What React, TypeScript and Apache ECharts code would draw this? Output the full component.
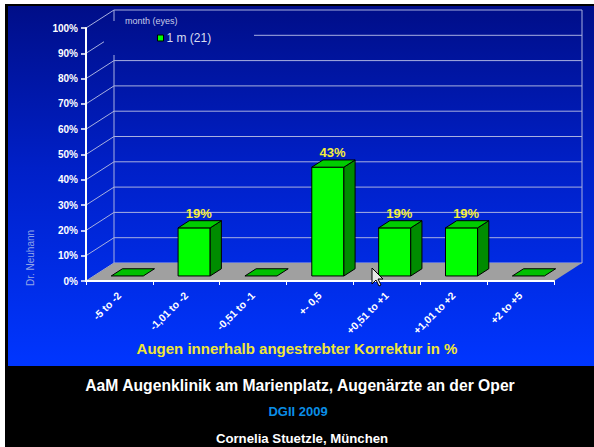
import React, { useEffect, useRef } from "react";
import * as echarts from "echarts";

const categories = ["-5 to -2", "-1,01 to -2", "-0,51 to -1", "+- 0,5", "+0,51 to +1", "+1,01 to +2", "+2 to +5"];
const values = [0, 19, 0, 43, 19, 19, 0];
const yTicks = [0, 10, 20, 30, 40, 50, 60, 70, 80, 90, 100];
const seriesName = "1 m (21)";
const legendTitle = "month (eyes)";
const xTitle = "Augen innerhalb angestrebter Korrektur in %";
const sideNote = "Dr. Neuhann";
const footer1 = "AaM Augenklinik am Marienplatz, Augenärzte an der Oper";
const footer2 = "DGII 2009";
const footer3 = "Cornelia Stuetzle, München";

const DX = 28;
const DY = -18;
const FONT = '"Liberation Sans", Arial, sans-serif';
const BG_STOPS = [
  { offset: 0, color: "#000e88" },
  { offset: 0.45, color: "#0020c8" },
  { offset: 1, color: "#0036ff" },
];
const GRID_COLOR = "#a8b0e0";

export default function App() {
  const ref = useRef<HTMLDivElement>(null);
  useEffect(() => {
    document.body.style.margin = "0";
    const chart = echarts.init(ref.current!, null, { renderer: "svg" });
    const n = categories.length;

    const edges = (api: any) => {
      const bw = api.size([1, 0])[0];
      const left = api.coord([0, 0])[0] - bw / 2;
      const right = api.coord([n - 1, 0])[0] + bw / 2;
      return { bw, left, right };
    };

    const option: any = {
      animation: false,
      grid: { left: 86, top: 28, width: 468, height: 253 },
      legend: {
        data: [{ name: seriesName, icon: "rect", itemStyle: { color: "#00ff00", borderColor: "#000", borderWidth: 1 } }],
        left: 157,
        top: 32,
        padding: 0,
        itemWidth: 6,
        itemHeight: 6,
        itemGap: 5,
        selectedMode: false,
        z: 10,
        textStyle: { color: "#d8dcf0", fontSize: 12, fontFamily: FONT, padding: [0, 0, 0, -2] },
      },
      xAxis: {
        type: "category",
        data: categories,
        z: 10,
        axisLine: { lineStyle: { color: "#fff", width: 2 } },
        axisTick: { show: true, length: 4, lineStyle: { color: "#fff", width: 1 } },
        axisLabel: { rotate: 45, interval: 0, color: "#fff", fontWeight: "bold", fontSize: 10.5, fontFamily: FONT, margin: 13 },
        splitLine: { show: false },
      },
      yAxis: {
        type: "value",
        min: 0,
        max: 100,
        interval: 10,
        z: 10,
        axisLine: { show: true, lineStyle: { color: "#fff", width: 2 } },
        axisTick: { show: true, length: 5, lineStyle: { color: "#fff", width: 1.5 } },
        axisLabel: { formatter: "{value}%", color: "#fff", fontWeight: "bold", fontSize: 10, fontFamily: FONT, margin: 8 },
        splitLine: { show: false },
      },
      series: [
        {
          type: "custom",
          name: "walls",
          silent: true,
          z: 2,
          data: yTicks.map((v) => [0, v]),
          renderItem: (params: any, api: any) => {
            const { left, right } = edges(api);
            const v = api.value(1);
            const y = api.coord([0, v])[1];
            const children: any[] = [
              {
                type: "polyline",
                shape: { points: [[left, y], [left + DX, y + DY], [right + DX, y + DY]] },
                style: { stroke: GRID_COLOR, lineWidth: 1, fill: null },
              },
            ];
            if (params.dataIndex === 0) {
              const yTop = api.coord([0, yTicks[yTicks.length - 1]])[1];
              children.push(
                { type: "line", shape: { x1: left + DX, y1: y + DY, x2: left + DX, y2: yTop + DY }, style: { stroke: GRID_COLOR, lineWidth: 1 } },
                { type: "line", shape: { x1: right + DX, y1: y + DY, x2: right + DX, y2: yTop + DY }, style: { stroke: GRID_COLOR, lineWidth: 1 } }
              );
            }
            return { type: "group", children };
          },
        },
        {
          type: "custom",
          name: "floor",
          silent: true,
          z: 3,
          data: [[0, 0]],
          renderItem: (params: any, api: any) => {
            const { left, right } = edges(api);
            const y0 = api.coord([0, 0])[1];
            return {
              type: "polygon",
              shape: { points: [[left, y0], [right, y0], [right + DX, y0 + DY], [left + DX, y0 + DY]] },
              style: { fill: "#a0a0a0" },
            };
          },
        },
        {
          type: "custom",
          name: seriesName,
          z: 4,
          data: values.map((v, i) => [i, v]),
          renderItem: (params: any, api: any) => {
            const i = api.value(0);
            const v = api.value(1);
            const [cx, y0] = api.coord([i, 0]);
            const y1 = api.coord([i, v])[1];
            const bw = api.size([1, 0])[0];
            const w = bw * 0.48;
            const f = 0.28;
            const b = 0.68;
            const fx = cx - w / 2 + f * DX;
            const fy0 = y0 + f * DY;
            const fy1 = y1 + f * DY;
            const ddx = (b - f) * DX;
            const ddy = (b - f) * DY;
            const stroke = { stroke: "#000", lineWidth: 1 };
            const top = {
              type: "polygon",
              shape: { points: [[fx, fy1], [fx + w, fy1], [fx + w + ddx, fy1 + ddy], [fx + ddx, fy1 + ddy]] },
              style: { fill: v > 0 ? "#00cc00" : "#00c000", ...stroke },
            };
            if (v <= 0) return { type: "group", children: [top] };
            return {
              type: "group",
              children: [
                { type: "rect", shape: { x: fx, y: fy1, width: w, height: fy0 - fy1 }, style: { fill: "#00ff00", ...stroke } },
                {
                  type: "polygon",
                  shape: { points: [[fx + w, fy1], [fx + w, fy0], [fx + w + ddx, fy0 + ddy], [fx + w + ddx, fy1 + ddy]] },
                  style: { fill: "#008c00", ...stroke },
                },
                top,
                {
                  type: "text",
                  style: {
                    text: v + "%",
                    x: fx + w / 2 + ddx / 2 - 1,
                    y: fy1 + ddy - 7,
                    align: "center",
                    verticalAlign: "middle",
                    textAlign: "center",
                    textVerticalAlign: "middle",
                    fill: "#f5ee3a",
                    font: "bold 13px " + FONT,
                  },
                },
              ],
            };
          },
        },
      ],
      graphic: [
        {
          type: "rect",
          z: 5,
          silent: true,
          shape: { x: 104, y: 21, width: 150, height: 34 },
          style: {
            fill: { type: "linear", x: 0, y: 6, x2: 0, y2: 366, global: true, colorStops: BG_STOPS },
          },
        },
        {
          type: "text",
          z: 10,
          x: 125,
          y: 21,
          style: { text: legendTitle, fill: "#c8cce8", font: "9px " + FONT, textAlign: "left", textVerticalAlign: "middle", align: "left", verticalAlign: "middle" },
        },
        {
          type: "text",
          z: 10,
          x: 30,
          y: 258,
          rotation: Math.PI / 2,
          style: { text: sideNote, fill: "#90a4e8", font: "10px " + FONT, textAlign: "center", textVerticalAlign: "middle", align: "center", verticalAlign: "middle" },
        },
        {
          type: "text",
          z: 10,
          x: 297,
          y: 348,
          style: { text: xTitle, fill: "#f0e636", font: "bold 15px " + FONT, textAlign: "center", textVerticalAlign: "middle", align: "center", verticalAlign: "middle" },
        },
        {
          type: "text",
          z: 10,
          x: 300,
          y: 385,
          style: { text: footer1, fill: "#ffffff", font: "bold 15.7px " + FONT, textAlign: "center", textVerticalAlign: "middle", align: "center", verticalAlign: "middle" },
        },
        {
          type: "text",
          z: 10,
          x: 298,
          y: 411,
          style: { text: footer2, fill: "#0a8ee6", font: "bold 13px " + FONT, textAlign: "center", textVerticalAlign: "middle", align: "center", verticalAlign: "middle" },
        },
        {
          type: "text",
          z: 10,
          x: 302,
          y: 438,
          style: { text: footer3, fill: "#ffffff", font: "bold 13.2px " + FONT, textAlign: "center", textVerticalAlign: "middle", align: "center", verticalAlign: "middle" },
        },
        {
          type: "polygon",
          z: 20,
          silent: true,
          shape: { points: [[372, 268], [372, 284], [376, 280], [379, 286], [381, 285], [378, 279], [383, 279]] },
          style: { fill: "#e8e8e8", stroke: "#000", lineWidth: 1 },
        },
      ],
    };
    chart.setOption(option);
    return () => chart.dispose();
  }, []);

  return (
    <div style={{ position: "relative", width: 594, height: 447, background: "#fff", overflow: "hidden" }}>
      <div style={{ position: "absolute", left: 5, top: 4, width: 589, height: 443, background: "#000" }} />
      <div
        style={{
          position: "absolute",
          left: 8,
          top: 6,
          width: 586,
          height: 360,
          background: "linear-gradient(to bottom, #000e88 0%, #0020c8 45%, #0036ff 100%)",
        }}
      />
      <div ref={ref} style={{ position: "absolute", left: 0, top: 0, width: 594, height: 447 }} />
    </div>
  );
}
